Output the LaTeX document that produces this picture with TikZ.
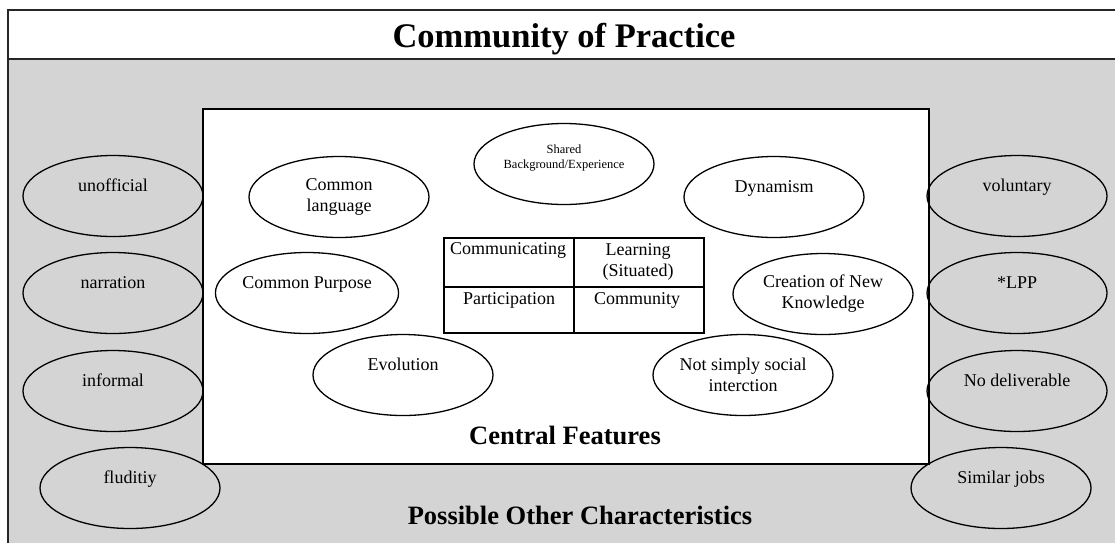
\documentclass[tikz,border=0pt]{standalone}
\usepackage{fontspec}
\setmainfont{Liberation Serif}
\usetikzlibrary{shapes.geometric}
\definecolor{bggray}{RGB}{212,212,212}
\begin{document}
\begin{tikzpicture}[x=1pt,y=-1pt,
  frameline/.style={line width=1.6pt, draw=black!85},
  oval/.style={draw=black, line width=1.3pt, ellipse, minimum width=180pt, minimum height=81pt,
    inner sep=0pt, align=center, font=\fontsize{18}{21}\selectfont},
  smalloval/.style={oval, font=\fontsize{12.5}{15}\selectfont},
  cell/.style={font=\fontsize{18}{21}\selectfont, align=center, inner sep=0pt},
  heading/.style={font=\fontsize{26.5}{30}\selectfont\bfseries, inner sep=0pt, anchor=base},
  title/.style={font=\fontsize{34.5}{40}\selectfont\bfseries, inner sep=0pt, anchor=base}]
\useasboundingbox (0,0) rectangle (1115,542);
% outer frame
\fill[bggray] (8,59) rectangle (1120,545);
\fill[white] (8,10) rectangle (1120,59);
\draw[frameline] (1120,10) -- (8,10) -- (8,545);
\draw[frameline] (8,59) -- (1120,59);
\node[title] (ttl) at (564,47) {Community of Practice};
% inner box
\node[draw=black, fill=white, line width=1.5pt, minimum width=726pt, minimum height=355pt,
  inner sep=0pt, anchor=north west] (inner) at (202,108) {};
% central ellipses
\node[smalloval, fill=white] (shared) at (564,164) {Shared\\Background/Experience\\~};
\node[oval, fill=white] (lang) at (339,197) {Common\\language};
\node[oval, fill=white] (dyn) at (774,197) {Dynamism\\~};
\node[oval, fill=white] (purp) at (307,293) {Common Purpose\\~};
\node[oval, fill=white] (creat) at (823,294) {Creation of New\\Knowledge};
\node[oval, fill=white] (evol) at (403,375) {Evolution\\~};
\node[oval, fill=white] (notsoc) at (743,375) {Not simply social\\interction};
% table
\node[draw=black, line width=1.8pt, minimum width=260pt, minimum height=95pt, inner sep=0pt,
  anchor=north west] (tbl) at (443,237) {};
\draw[line width=1.8pt] (tbl.north) -- (tbl.south);
\coordinate (hl) at (443,287);
\coordinate (hr) at (703,287);
\draw[line width=1.8pt] (hl) -- (hr);
\node[cell] (c1) at (508,250) {Communicating};
\node[cell] (c2) at (638,262) {Learning\\(Situated)};
\node[cell] (c3) at (509,300) {Participation};
\node[cell] (c4) at (637,300) {Community};
\node[heading] (cf) at (565,444) {Central Features};
% side ellipses
\node[oval] (unoff) at (113,196) {unofficial\\~};
\node[oval] (narr) at (113,293) {narration\\~};
\node[oval] (infor) at (113,391) {informal\\~};
\node[oval] (flud) at (130,488) {fluditiy\\~};
\node[oval] (vol) at (1017,196) {voluntary\\~};
\node[oval] (lpp) at (1017,293) {*LPP\\~};
\node[oval] (nodel) at (1017,391) {No deliverable\\~};
\node[oval] (simj) at (1001,488) {Similar jobs\\~};
\node[heading] (poc) at (580,524) {Possible Other Characteristics};
\end{tikzpicture}
\end{document}
